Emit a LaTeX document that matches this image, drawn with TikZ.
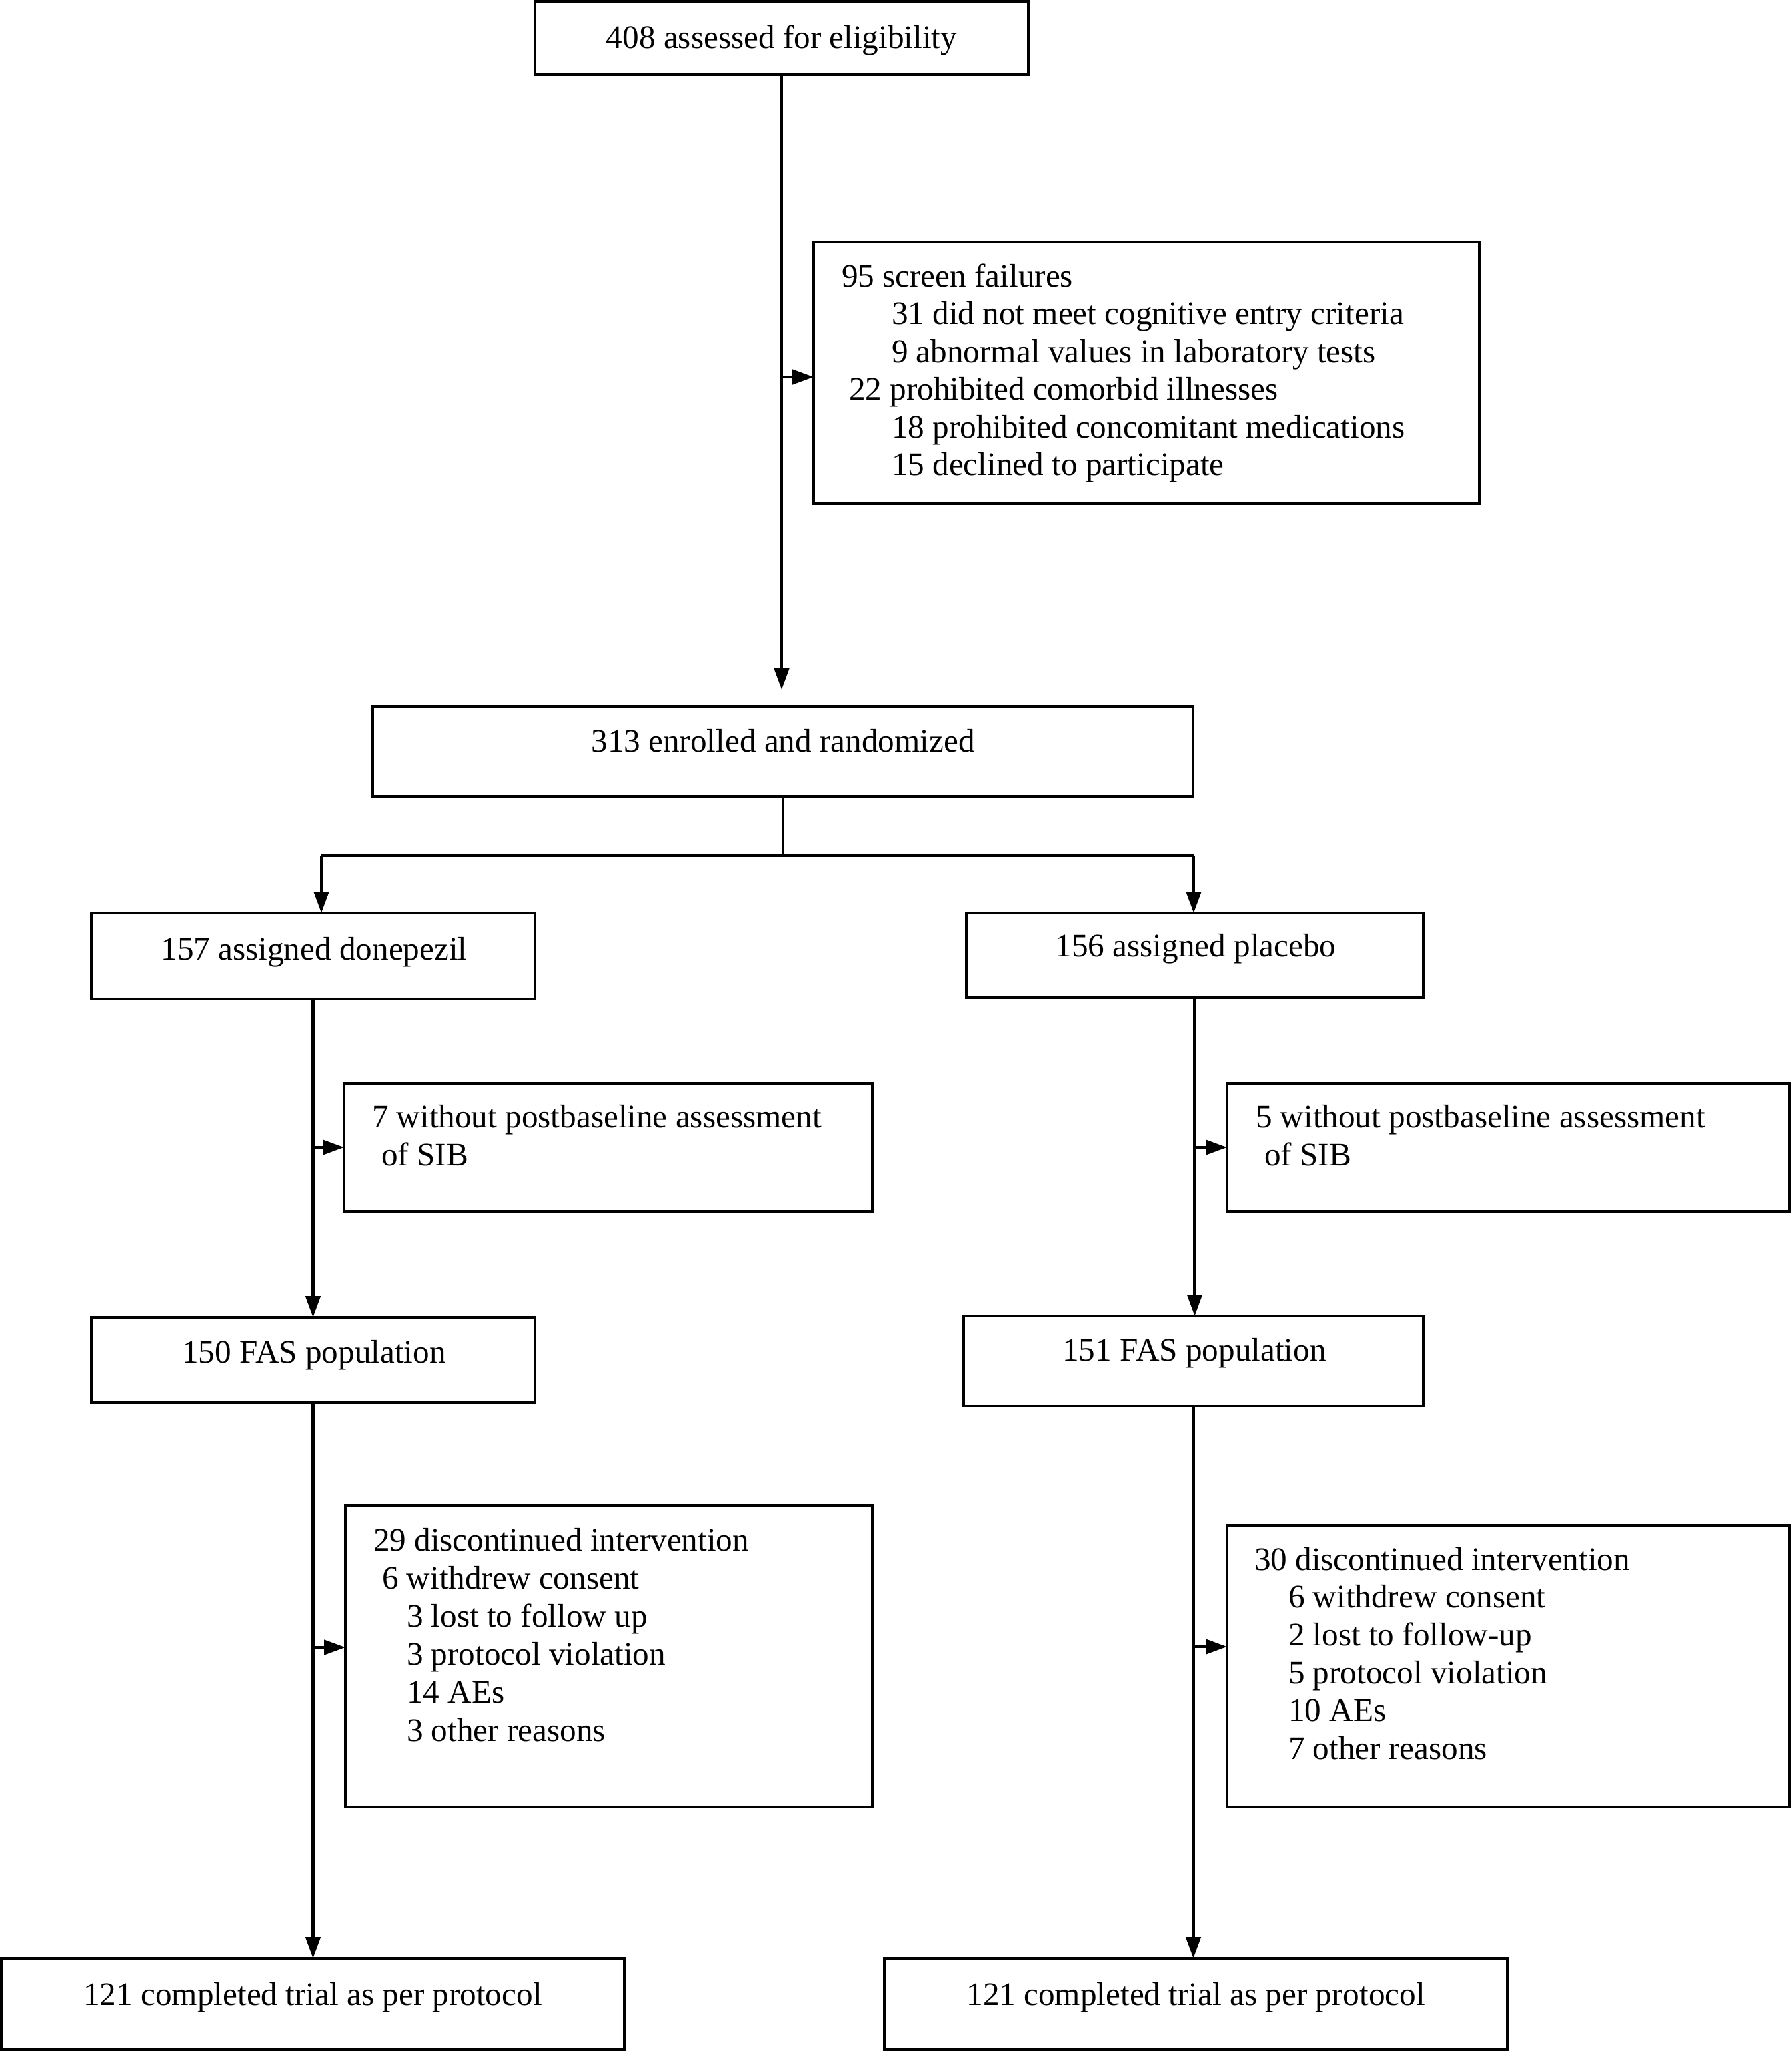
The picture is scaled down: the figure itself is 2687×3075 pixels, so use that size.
\documentclass[tikz,border=0pt]{standalone}
\usepackage{fontspec}
\setmainfont{Liberation Serif}
\usetikzlibrary{arrows.meta}
\begin{document}
\begin{tikzpicture}[x=0.25pt,y=-0.25pt,
 box/.style={draw,line width=0.9pt,inner sep=0pt,outer sep=0pt,rectangle},
 txt/.style={inner sep=0pt,outer sep=0pt,anchor=base west,font=\fontsize{12.3}{14.2}\selectfont},
 ctxt/.style={txt,anchor=base},
 conn/.style={line width=1.15pt},
 arr/.style={conn,-{Triangle[length=8pt,width=5.5pt]}}]
\useasboundingbox (0,0) rectangle (2687,3075);

% boxes
\node[box,minimum width=185pt,minimum height=27.5pt] (A) at (1172,57) {};
\node[box,minimum width=249.5pt,minimum height=98pt] (B) at (1719,559) {};
\node[box,minimum width=307.5pt,minimum height=33.75pt] (C) at (1174,1126.5) {};
\node[box,minimum width=166.25pt,minimum height=32.25pt] (D) at (469.5,1433.5) {};
\node[box,minimum width=171.25pt,minimum height=31.75pt] (E) at (1791.5,1432.5) {};
\node[box,minimum width=198pt,minimum height=48pt] (F) at (912,1720) {};
\node[box,minimum width=210.75pt,minimum height=48pt] (G) at (2261.5,1720) {};
\node[box,minimum width=166.25pt,minimum height=32pt] (H) at (469.5,2039) {};
\node[box,minimum width=172.25pt,minimum height=33.75pt] (I) at (1789.5,2040.5) {};
\node[box,minimum width=197.5pt,minimum height=113pt] (J) at (913,2483) {};
\node[box,minimum width=210.75pt,minimum height=105.5pt] (K) at (2261.5,2498) {};
\node[box,minimum width=233.5pt,minimum height=34.25pt] (L) at (469,3004.5) {};
\node[box,minimum width=233.5pt,minimum height=34.25pt] (M) at (1793,3004.5) {};

% texts
\node[ctxt] (tA) at (1172,72) {408 assessed for eligibility};

\node[txt] (tB1) at (1262,430) {95 screen failures};
\node[txt] (tB2) at (1337,486) {31 did not meet cognitive entry criteria};
\node[txt] (tB3) at (1337,543) {9 abnormal values in laboratory tests};
\node[txt] (tB4) at (1273,599) {22 prohibited comorbid illnesses};
\node[txt] (tB5) at (1337,656) {18 prohibited concomitant medications};
\node[txt] (tB6) at (1337,712) {15 declined to participate};

\node[ctxt] (tC) at (1174,1127) {313 enrolled and randomized};
\node[ctxt] (tD) at (471,1439) {157 assigned donepezil};
\node[ctxt] (tE) at (1793,1434) {156 assigned placebo};

\node[txt] (tF1) at (558,1690) {7 without postbaseline assessment};
\node[txt] (tF2) at (572,1747) {of SIB};
\node[txt] (tG1) at (1883,1690) {5 without postbaseline assessment};
\node[txt] (tG2) at (1896,1747) {of SIB};

\node[ctxt] (tH) at (471,2043) {150 FAS population};
\node[ctxt] (tI) at (1791,2040) {151 FAS population};

\node[txt] (tJ1) at (560,2325) {29 discontinued intervention};
\node[txt] (tJ2) at (573,2382) {6 withdrew consent};
\node[txt] (tJ3) at (610,2439) {3 lost to follow up};
\node[txt] (tJ4) at (610,2496) {3 protocol violation};
\node[txt] (tJ5) at (610,2553) {14 AEs};
\node[txt] (tJ6) at (610,2610) {3 other reasons};

\node[txt] (tK1) at (1881,2354) {30 discontinued intervention};
\node[txt] (tK2) at (1932,2410) {6 withdrew consent};
\node[txt] (tK3) at (1932,2467) {2 lost to follow-up};
\node[txt] (tK4) at (1932,2524) {5 protocol violation};
\node[txt] (tK5) at (1932,2580) {10 AEs};
\node[txt] (tK6) at (1932,2637) {7 other reasons};

\node[ctxt] (tL) at (469,3006) {121 completed trial as per protocol};
\node[ctxt] (tM) at (1793,3006) {121 completed trial as per protocol};

% connectors
\coordinate (bA) at (1171,565);
\coordinate (cA) at (1172,1034);
\coordinate (bl) at (482,1283);
\coordinate (brr) at (1790,1283);
\coordinate (jy) at (0,2470);
\coordinate (ky) at (0,2469);

\draw[arr] (A.south) -- (cA);
\draw[arr] (bA) -- (bA -| B.west);

\draw[conn] (C.south) -- (C.south |- bl);
\draw[conn] (bl) -- (brr);
\draw[arr] (bl) -- (bl |- D.north);
\draw[arr] (brr) -- (brr |- E.north);

\draw[arr] (D.south) -- (H.north);
\draw[arr] (D.south |- F.west) -- (F.west);
\draw[arr] (H.south) -- (H.south |- L.north);
\draw[arr] (H.south |- jy) -- (jy -| J.west);

\draw[arr] (E.south) -- (E.south |- I.north);
\draw[arr] (E.south |- G.west) -- (G.west);
\draw[arr] (I.south) -- (I.south |- M.north);
\draw[arr] (I.south |- ky) -- (ky -| K.west);
\end{tikzpicture}
\end{document}
